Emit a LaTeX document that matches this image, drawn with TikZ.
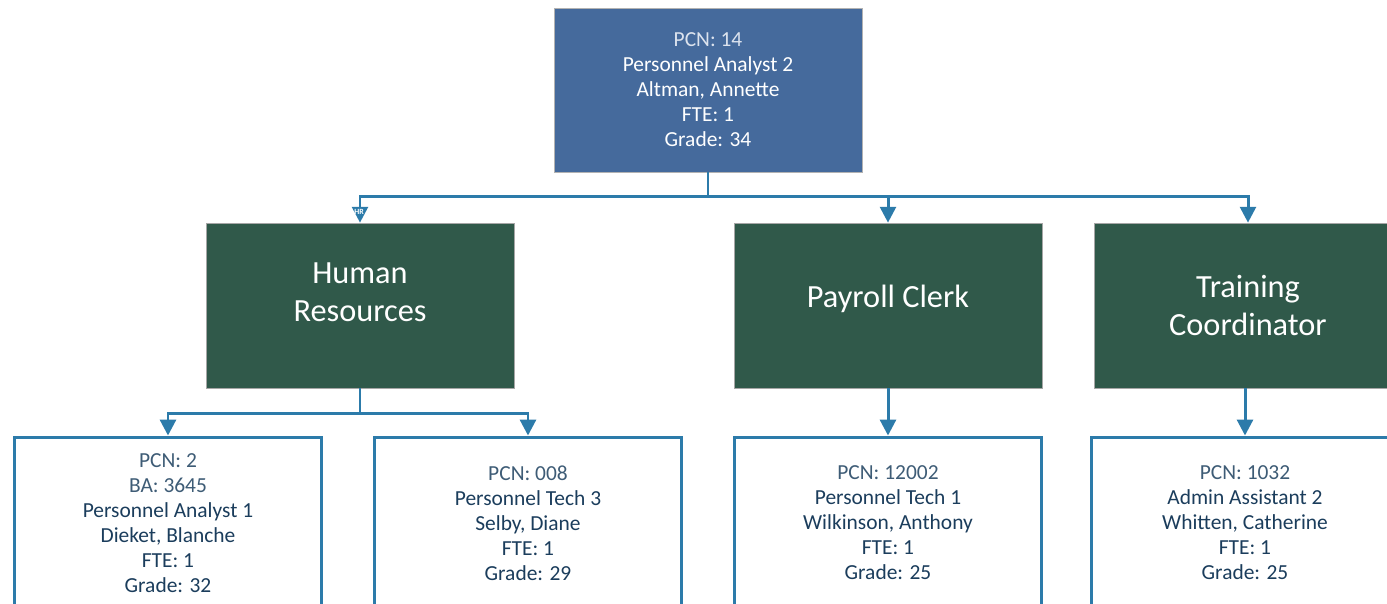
\documentclass[tikz,border=0pt]{standalone}
\usepackage{fontspec}
\setmainfont{Carlito}
\usetikzlibrary{arrows.meta}
\definecolor{topblue}{HTML}{456A9C}
\definecolor{unitgreen}{HTML}{30594A}
\definecolor{linkblue}{HTML}{2C7BAA}
\definecolor{navy}{HTML}{1B3D5C}
\definecolor{navylight}{HTML}{3E5C76}
\definecolor{palegray}{HTML}{DCE3EE}

\begin{document}
\begin{tikzpicture}[x=0.02cm, y=-0.02cm, line width=1.7pt]
	\tikzset{
		postbox/.style={draw=linkblue, fill=white, text=navy, align=center,
			minimum width=6.16cm, minimum height=3.44cm, inner sep=0pt,
			font=\fontsize{12.2}{14.2}\selectfont},
		unitbox/.style={draw=gray!70, line width=0.4pt, fill=unitgreen, text=white, align=center,
			minimum width=6.16cm, minimum height=3.3cm, inner sep=0pt,
			font=\fontsize{18.4}{21.6}\selectfont},
		link/.style={draw=linkblue},
		tip/.style={-{Triangle[width=9pt,length=9pt]}}
	}
	\useasboundingbox (0,0) rectangle (1387,603);
	\clip (0,0) rectangle (1387,603);
	% head of the section
	\node[postbox, draw=gray!60, line width=0.4pt, fill=topblue, text=white, minimum height=3.28cm]
		(head) at (708,90) {\textcolor{palegray}{PCN: 14}\\Personnel Analyst 2\\Altman, Annette\\FTE: 1\\Grade: 34};
	% units
	\node[unitbox, text depth=0.55cm] (hr) at (360,305.5) {Human\\Resources};
	\node[unitbox, text depth=0.36cm] (pay) at (888,305.5) {Payroll Clerk};
	\node[unitbox] (train) at (1248,305.5) {Training\\Coordinator};
	% posts
	\node[postbox] (pa1) at (168,523) {\textcolor{navylight}{PCN: 2}\\\textcolor{navylight}{BA: 3645}\\Personnel Analyst 1\\Dieket, Blanche\\FTE: 1\\Grade: 32};
	\node[postbox] (pt3) at (528,523) {\textcolor{navylight}{PCN: 008}\\Personnel Tech 3\\Selby, Diane\\FTE: 1\\Grade: 29};
	\node[postbox] (pt1) at (888,523) {\textcolor{navylight}{PCN: 12002}\\Personnel Tech 1\\Wilkinson, Anthony\\FTE: 1\\Grade: 25};
	\node[postbox] (aa2) at (1245,523) {\textcolor{navylight}{PCN: 1032}\\Admin Assistant 2\\Whitten, Catherine\\FTE: 1\\Grade: 25};
	% connectors
	\coordinate (bus0) at (708,196);
	\coordinate (bus1) at (360,413);
	\draw[link] (head.south) -- (bus0);
	\foreach \x in {hr,pay,train}
	{
		\draw[link, tip] (bus0) -| (\x.north);
	}
	\node[text=white, font=\fontsize{4.5}{5}\selectfont\bfseries, inner sep=0pt] (hrtag) at (359,212) {HR};
	\draw[link] (hr.south) -- (bus1);
	\foreach \x in {pa1,pt3}
	{
		\draw[link, tip] (bus1) -| (\x.north);
	}
	\draw[link, tip] (pay.south) -- (pt1.north);
	\draw[link, tip] (aa2.north |- train.south) -- (aa2.north);
\end{tikzpicture}
\end{document}
